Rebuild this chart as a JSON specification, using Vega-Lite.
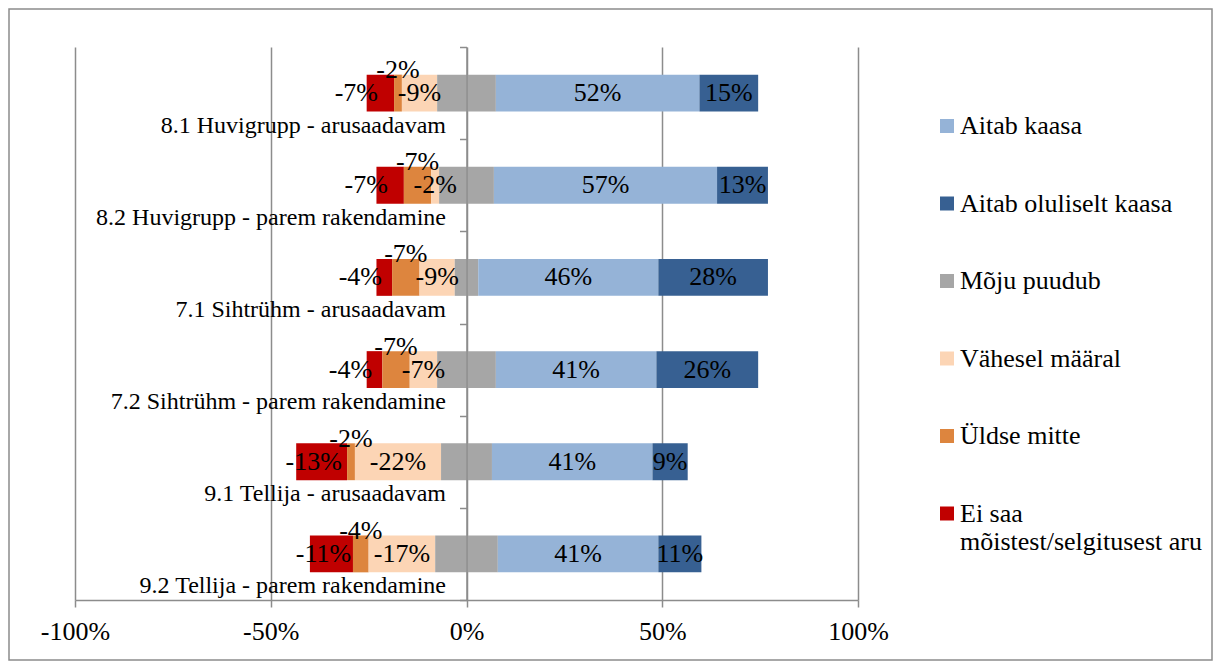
{
  "$schema": "https://vega.github.io/schema/vega-lite/v6.json",
  "width": 1203,
  "height": 651,
  "autosize": {"type": "none"},
  "padding": {"left": 9, "top": 9, "right": 9, "bottom": 12},
  "background": "#ffffff",
  "config": {
    "locale": {"number": {"decimal": ".", "thousands": ",", "grouping": [3], "currency": ["", ""], "minus": "-"}},
    "view": {"stroke": "#8c8c8c", "strokeWidth": 1.5},
    "font": "Liberation Serif",
    "text": {"font": "Liberation Serif", "fontSize": 26, "color": "#000000", "baseline": "middle", "align": "center"}
  },
  "data": {
    "values": [
      {"kysimus": "8.1 Huvigrupp - arusaadavam", "vastus": "Ei saa mõistest/selgitusest aru", "jark": 3, "osakaal": -0.07},
      {"kysimus": "8.1 Huvigrupp - arusaadavam", "vastus": "Üldse mitte", "jark": 2, "osakaal": -0.02},
      {"kysimus": "8.1 Huvigrupp - arusaadavam", "vastus": "Vähesel määral", "jark": 1, "osakaal": -0.09},
      {"kysimus": "8.1 Huvigrupp - arusaadavam", "vastus": "Mõju puudub", "jark": 0, "osakaal": -0.075},
      {"kysimus": "8.1 Huvigrupp - arusaadavam", "vastus": "Mõju puudub", "jark": 0, "osakaal": 0.075},
      {"kysimus": "8.1 Huvigrupp - arusaadavam", "vastus": "Aitab kaasa", "jark": 1, "osakaal": 0.52},
      {"kysimus": "8.1 Huvigrupp - arusaadavam", "vastus": "Aitab oluliselt kaasa", "jark": 2, "osakaal": 0.15},

      {"kysimus": "8.2 Huvigrupp - parem rakendamine", "vastus": "Ei saa mõistest/selgitusest aru", "jark": 3, "osakaal": -0.07},
      {"kysimus": "8.2 Huvigrupp - parem rakendamine", "vastus": "Üldse mitte", "jark": 2, "osakaal": -0.07},
      {"kysimus": "8.2 Huvigrupp - parem rakendamine", "vastus": "Vähesel määral", "jark": 1, "osakaal": -0.02},
      {"kysimus": "8.2 Huvigrupp - parem rakendamine", "vastus": "Mõju puudub", "jark": 0, "osakaal": -0.07},
      {"kysimus": "8.2 Huvigrupp - parem rakendamine", "vastus": "Mõju puudub", "jark": 0, "osakaal": 0.07},
      {"kysimus": "8.2 Huvigrupp - parem rakendamine", "vastus": "Aitab kaasa", "jark": 1, "osakaal": 0.57},
      {"kysimus": "8.2 Huvigrupp - parem rakendamine", "vastus": "Aitab oluliselt kaasa", "jark": 2, "osakaal": 0.13},

      {"kysimus": "7.1 Sihtrühm - arusaadavam", "vastus": "Ei saa mõistest/selgitusest aru", "jark": 3, "osakaal": -0.04},
      {"kysimus": "7.1 Sihtrühm - arusaadavam", "vastus": "Üldse mitte", "jark": 2, "osakaal": -0.07},
      {"kysimus": "7.1 Sihtrühm - arusaadavam", "vastus": "Vähesel määral", "jark": 1, "osakaal": -0.09},
      {"kysimus": "7.1 Sihtrühm - arusaadavam", "vastus": "Mõju puudub", "jark": 0, "osakaal": -0.03},
      {"kysimus": "7.1 Sihtrühm - arusaadavam", "vastus": "Mõju puudub", "jark": 0, "osakaal": 0.03},
      {"kysimus": "7.1 Sihtrühm - arusaadavam", "vastus": "Aitab kaasa", "jark": 1, "osakaal": 0.46},
      {"kysimus": "7.1 Sihtrühm - arusaadavam", "vastus": "Aitab oluliselt kaasa", "jark": 2, "osakaal": 0.28},

      {"kysimus": "7.2 Sihtrühm - parem rakendamine", "vastus": "Ei saa mõistest/selgitusest aru", "jark": 3, "osakaal": -0.04},
      {"kysimus": "7.2 Sihtrühm - parem rakendamine", "vastus": "Üldse mitte", "jark": 2, "osakaal": -0.07},
      {"kysimus": "7.2 Sihtrühm - parem rakendamine", "vastus": "Vähesel määral", "jark": 1, "osakaal": -0.07},
      {"kysimus": "7.2 Sihtrühm - parem rakendamine", "vastus": "Mõju puudub", "jark": 0, "osakaal": -0.075},
      {"kysimus": "7.2 Sihtrühm - parem rakendamine", "vastus": "Mõju puudub", "jark": 0, "osakaal": 0.075},
      {"kysimus": "7.2 Sihtrühm - parem rakendamine", "vastus": "Aitab kaasa", "jark": 1, "osakaal": 0.41},
      {"kysimus": "7.2 Sihtrühm - parem rakendamine", "vastus": "Aitab oluliselt kaasa", "jark": 2, "osakaal": 0.26},

      {"kysimus": "9.1 Tellija - arusaadavam", "vastus": "Ei saa mõistest/selgitusest aru", "jark": 3, "osakaal": -0.13},
      {"kysimus": "9.1 Tellija - arusaadavam", "vastus": "Üldse mitte", "jark": 2, "osakaal": -0.02},
      {"kysimus": "9.1 Tellija - arusaadavam", "vastus": "Vähesel määral", "jark": 1, "osakaal": -0.22},
      {"kysimus": "9.1 Tellija - arusaadavam", "vastus": "Mõju puudub", "jark": 0, "osakaal": -0.065},
      {"kysimus": "9.1 Tellija - arusaadavam", "vastus": "Mõju puudub", "jark": 0, "osakaal": 0.065},
      {"kysimus": "9.1 Tellija - arusaadavam", "vastus": "Aitab kaasa", "jark": 1, "osakaal": 0.41},
      {"kysimus": "9.1 Tellija - arusaadavam", "vastus": "Aitab oluliselt kaasa", "jark": 2, "osakaal": 0.09},

      {"kysimus": "9.2 Tellija - parem rakendamine", "vastus": "Ei saa mõistest/selgitusest aru", "jark": 3, "osakaal": -0.11},
      {"kysimus": "9.2 Tellija - parem rakendamine", "vastus": "Üldse mitte", "jark": 2, "osakaal": -0.04},
      {"kysimus": "9.2 Tellija - parem rakendamine", "vastus": "Vähesel määral", "jark": 1, "osakaal": -0.17},
      {"kysimus": "9.2 Tellija - parem rakendamine", "vastus": "Mõju puudub", "jark": 0, "osakaal": -0.08},
      {"kysimus": "9.2 Tellija - parem rakendamine", "vastus": "Mõju puudub", "jark": 0, "osakaal": 0.08},
      {"kysimus": "9.2 Tellija - parem rakendamine", "vastus": "Aitab kaasa", "jark": 1, "osakaal": 0.41},
      {"kysimus": "9.2 Tellija - parem rakendamine", "vastus": "Aitab oluliselt kaasa", "jark": 2, "osakaal": 0.11}
    ]
  },
  "encoding": {
    "y": {
      "field": "kysimus",
      "type": "nominal",
      "sort": [
        "8.1 Huvigrupp - arusaadavam",
        "8.2 Huvigrupp - parem rakendamine",
        "7.1 Sihtrühm - arusaadavam",
        "7.2 Sihtrühm - parem rakendamine",
        "9.1 Tellija - arusaadavam",
        "9.2 Tellija - parem rakendamine"
      ],
      "scale": {"range": [38, 591], "paddingInner": 0, "paddingOuter": 0},
      "axis": {
        "title": null,
        "orient": "left",
        "offset": -457.5,
        "zindex": 1,
        "grid": false,
        "domainColor": "#8c8c8c",
        "domainWidth": 1.5,
        "tickColor": "#8c8c8c",
        "tickWidth": 1.5,
        "tickSize": 7,
        "tickBand": "extent",
        "labelFont": "Liberation Serif",
        "labelFontSize": 24,
        "labelColor": "#000000",
        "labelPadding": 14,
        "labelOffset": 32,
        "labelLimit": 600
      }
    },
    "order": {"field": "jark", "type": "quantitative"}
  },
  "layer": [
    {
      "mark": {"type": "bar", "height": {"band": 0.4}},
      "encoding": {
        "x": {
          "field": "osakaal",
          "type": "quantitative",
          "stack": "zero",
          "scale": {"domain": [-1, 1], "range": [66, 849], "nice": false},
          "axis": {
            "orient": "top",
            "title": null,
            "values": [-1, -0.5, 0, 0.5, 1],
            "grid": true,
            "gridColor": "#8c8c8c",
            "gridWidth": 1.5,
            "domain": false,
            "ticks": false,
            "labels": false,
            "zindex": 0
          }
        },
        "color": {
          "field": "vastus",
          "type": "nominal",
          "scale": {
            "domain": ["Aitab kaasa", "Aitab oluliselt kaasa", "Mõju puudub", "Vähesel määral", "Üldse mitte", "Ei saa mõistest/selgitusest aru"],
            "range": ["#95b3d7", "#376092", "#a6a6a6", "#fcd5b5", "#dd853e", "#c00000"]
          },
          "legend": {
            "title": null,
            "orient": "none",
            "legendX": 925,
            "legendY": 104,
            "padding": 0,
            "symbolType": "square",
            "symbolSize": 196,
            "symbolStrokeWidth": 0,
            "labelFont": "Liberation Serif",
            "labelFontSize": 26,
            "labelColor": "#000000",
            "labelOffset": 0,
            "labelLimit": 400,
            "rowPadding": 51.5,
            "labelExpr": "datum.label === 'Ei saa mõistest/selgitusest aru' ? ['Ei saa', 'mõistest/selgitusest aru'] : datum.label"
          }
        }
      }
    },
    {
      "mark": {"type": "text"},
      "encoding": {
        "x": {
          "field": "osakaal",
          "type": "quantitative",
          "stack": "zero",
          "bandPosition": 0.5,
          "scale": {"domain": [-1, 1], "range": [66, 849], "nice": false},
          "axis": {
            "orient": "bottom",
            "offset": -60,
            "title": null,
            "values": [-1, -0.5, 0, 0.5, 1],
            "format": ".0%",
            "grid": false,
            "labelFlush": false,
            "labelOverlap": false,
            "domainColor": "#8c8c8c",
            "domainWidth": 1.5,
            "tickColor": "#8c8c8c",
            "tickWidth": 1.5,
            "tickSize": 7,
            "labelFont": "Liberation Serif",
            "labelFontSize": 26,
            "labelColor": "#000000",
            "labelPadding": 11,
            "zindex": 0
          }
        },
        "detail": {"field": "vastus", "type": "nominal"},
        "text": {
          "condition": {"test": "indexof(['Mõju puudub', 'Üldse mitte', 'Ei saa mõistest/selgitusest aru'], datum.vastus) >= 0", "value": ""},
          "field": "osakaal",
          "type": "quantitative",
          "format": ".0%"
        }
      }
    },
    {
      "mark": {"type": "text", "dy": -23},
      "encoding": {
        "x": {"field": "osakaal", "type": "quantitative", "stack": "zero", "bandPosition": 0.5, "axis": null},
        "detail": {"field": "vastus", "type": "nominal"},
        "text": {
          "condition": {"test": "datum.vastus !== 'Üldse mitte'", "value": ""},
          "field": "osakaal",
          "type": "quantitative",
          "format": ".0%"
        }
      }
    },
    {
      "mark": {"type": "text", "dx": -24},
      "encoding": {
        "x": {"field": "osakaal", "type": "quantitative", "stack": "zero", "bandPosition": 0.5, "axis": null},
        "detail": {"field": "vastus", "type": "nominal"},
        "text": {
          "condition": {"test": "datum.vastus !== 'Ei saa mõistest/selgitusest aru' || datum.osakaal <= -0.1", "value": ""},
          "field": "osakaal",
          "type": "quantitative",
          "format": ".0%"
        }
      }
    },
    {
      "mark": {"type": "text", "dx": -8},
      "encoding": {
        "x": {"field": "osakaal", "type": "quantitative", "stack": "zero", "bandPosition": 0.5, "axis": null},
        "detail": {"field": "vastus", "type": "nominal"},
        "text": {
          "condition": {"test": "datum.vastus !== 'Ei saa mõistest/selgitusest aru' || datum.osakaal > -0.1", "value": ""},
          "field": "osakaal",
          "type": "quantitative",
          "format": ".0%"
        }
      }
    }
  ],
  "resolve": {"axis": {"x": "independent"}}
}
